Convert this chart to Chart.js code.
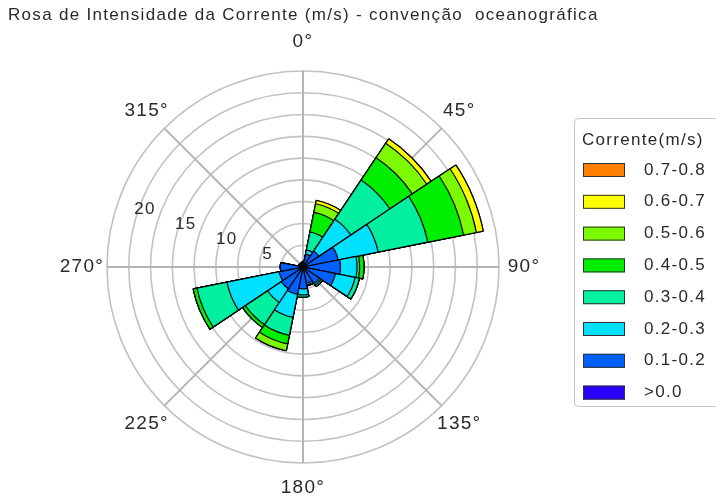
<!DOCTYPE html>
<html><head><meta charset="utf-8">
<script src="https://cdn.jsdelivr.net/npm/chart.js@4.4.1/dist/chart.umd.min.js"></script>
<style>html,body{margin:0;padding:0;background:#fff;}#wrap{width:716px;height:500px;}</style>
</head><body><div id="wrap"><canvas id="c" width="716" height="500"></canvas></div>
<script>
// ---- data ----
const chartTitle = 'Rosa de Intensidade da Corrente (m/s) - convenção  oceanográfica';
const legendTitle = 'Corrente(m/s)';
const directions = ['0°','22.5°','45°','67.5°','90°','112.5°','135°','157.5°','180°','202.5°','225°','247.5°','270°','292.5°','315°','337.5°'];
const compassLabels = ['0°','45°','90°','135°','180°','225°','270°','315°'];
const compassAngles = [0,45,90,135,180,225,270,315];
const radialTickLabels = [5,10,15,20];
const speedClasses = ['>0.0','0.1-0.2','0.2-0.3','0.3-0.4','0.4-0.5','0.5-0.6','0.6-0.7','0.7-0.8'];
const classColors = ['#2a00ff','#0060ff','#00e0ff','#00f0a0','#00ee00','#7cfa00','#ffff00','#ff8000'];
// frequency (%) per direction, one array per speed class
const freqGt00  = [0.2,0.4,0.4,0.4,0.4,0.4,0.3,0.3,0.4,0.4,0.4,0.4,0.4,0.2,0.2,0.2];
const freq01_02 = [0.4,1.1,1.8,3.7,3.9,3.4,2.0,1.6,2.1,2.8,2.6,2.4,2.2,0.3,0.3,0.3];
const freq02_03 = [0,0.5,4.4,4.7,1.9,2.3,0.2,0.2,0.7,2.7,1.9,6.1,0,0,0,0];
const freq03_04 = [0,2.1,5.4,5.8,0.3,0.5,0.2,0.1,0.25,2.1,3.05,3.5,0,0,0,0];
const freq04_05 = [0,2.3,3.1,4.2,0.5,0,0,0,0,1.0,0.4,0.45,0,0,0,0];
const freq05_06 = [0,1.0,2.0,1.5,0,0,0,0,0,0.8,0,0,0,0,0,0];
const freq06_07 = [0,0.4,0.6,0.8,0,0,0,0,0,0,0,0,0,0,0,0];
const freq07_08 = [0,0,0,0,0,0,0,0,0,0,0,0,0,0,0,0];
const classSeries = [freqGt00,freq01_02,freq02_03,freq03_04,freq04_05,freq05_06,freq06_07,freq07_08];

// cumulative (stacked) datasets; first dataset is drawn on top
const running = directions.map(() => 0);
const datasets = classSeries.map((series, k) => {
  series.forEach((v, i) => { running[i] += v; });
  return {
    label: speedClasses[k],
    data: running.slice(),
    backgroundColor: classColors[k],
    borderColor: '#000',
    borderWidth: 1.2
  };
});

const FONT = "'Liberation Sans', Arial, sans-serif";
function setFont(ctx, size) {
  ctx.font = size + 'px ' + FONT;
  if ('letterSpacing' in ctx) ctx.letterSpacing = '1.3px';
}

const spokes = {
  id: 'spokes',
  beforeDatasetsDraw(chart) {
    const s = chart.scales.r, ctx = chart.ctx;
    ctx.save();
    ctx.strokeStyle = '#b4b4b4';
    ctx.lineWidth = 2;
    compassAngles.forEach(a => {
      const rad = (a - 90) * Math.PI / 180;
      ctx.beginPath();
      ctx.moveTo(s.xCenter, s.yCenter);
      ctx.lineTo(s.xCenter + s.drawingArea * Math.cos(rad), s.yCenter + s.drawingArea * Math.sin(rad));
      ctx.stroke();
    });
    ctx.restore();
  }
};

const texts = {
  id: 'texts',
  afterDraw(chart) {
    const s = chart.scales.r, ctx = chart.ctx;
    ctx.save();
    ctx.fillStyle = '#2a2a2a';
    ctx.textBaseline = 'middle';
    // title
    setFont(ctx, 17);
    ctx.textAlign = 'left';
    ctx.fillText(chartTitle, 8, 15);
    // compass labels
    setFont(ctx, 19);
    ctx.textAlign = 'center';
    compassLabels.forEach((t, i) => {
      const rad = (compassAngles[i] - 90) * Math.PI / 180;
      const r = s.drawingArea + (compassAngles[i] === 0 ? 29 : 25);
      ctx.fillText(t, s.xCenter + r * Math.cos(rad), s.yCenter + r * Math.sin(rad));
    });
    // radial tick labels
    setFont(ctx, 17);
    radialTickLabels.forEach(v => {
      const r = s.getDistanceFromCenterForValue(v) - 6;
      const rad = (180 + 20) * Math.PI / 180;
      ctx.fillText(String(v), s.xCenter + r * Math.cos(rad), s.yCenter + r * Math.sin(rad));
    });
    // legend
    ctx.fillStyle = '#fff';
    ctx.strokeStyle = '#c4c4c4';
    ctx.lineWidth = 1;
    ctx.beginPath();
    if (ctx.roundRect) ctx.roundRect(574.5, 118.5, 170, 288, 4); else ctx.rect(574.5, 118.5, 170, 288);
    ctx.fill(); ctx.stroke();
    ctx.fillStyle = '#2a2a2a';
    setFont(ctx, 17);
    ctx.textAlign = 'left';
    ctx.fillText(legendTitle, 582, 140);
    for (let j = 0; j < speedClasses.length; j++) {
      const k = speedClasses.length - 1 - j;
      const y = 170 + j * 31.8;
      ctx.fillStyle = classColors[k];
      ctx.fillRect(583, y - 7, 42, 14);
      ctx.strokeStyle = '#333';
      ctx.strokeRect(583.5, y - 6.5, 41, 13);
      ctx.fillStyle = '#2a2a2a';
      ctx.fillText(speedClasses[k], 644, y);
    }
    ctx.restore();
  }
};

new Chart(document.getElementById('c'), {
  type: 'polarArea',
  data: { labels: directions, datasets },
  options: {
    responsive: false,
    animation: false,
    layout: { padding: { left: 7, right: 117, top: 71, bottom: 37 } },
    plugins: { legend: { display: false }, title: { display: false }, tooltip: { enabled: false } },
    scales: {
      r: {
        min: 0, max: 22.5,
        startAngle: -11.25,
        ticks: { display: false, stepSize: 2.5 },
        grid: { circular: true, color: '#c2c2c2', lineWidth: 1.6 },
        angleLines: { display: false },
        pointLabels: { display: false }
      }
    }
  },
  plugins: [spokes, texts]
});
</script></body></html>
